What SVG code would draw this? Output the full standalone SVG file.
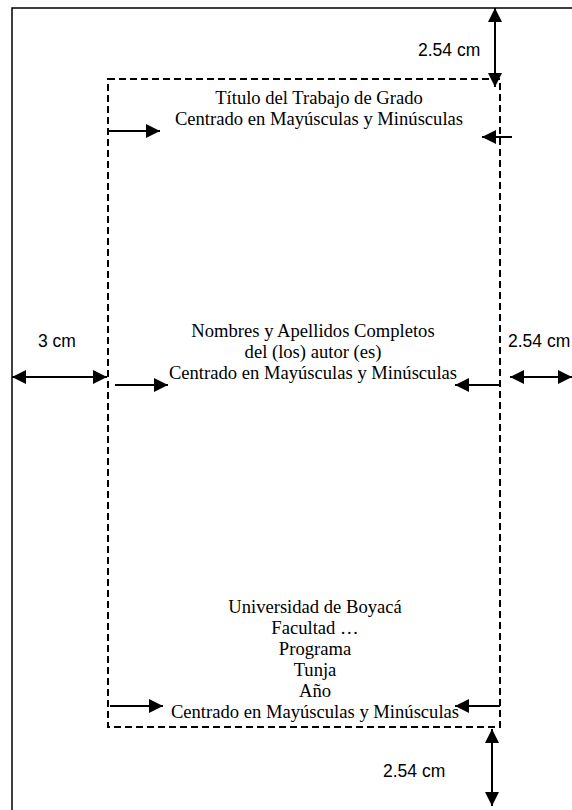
<svg xmlns="http://www.w3.org/2000/svg" width="572" height="810" viewBox="0 0 572 810">
<style>
.page{fill:none;stroke:#000;stroke-width:1.5}
.margin{fill:none;stroke:#000;stroke-width:2;stroke-dasharray:7 4}
.ln{fill:none;stroke:#000;stroke-width:2}
.t{font-family:"Liberation Serif","Times New Roman",serif;font-size:18.6px;fill:#000;text-anchor:middle}
.a{font-family:"Liberation Sans",Arial,sans-serif;font-size:17.5px;fill:#000}
</style>
<defs>
<marker id="ah" viewBox="0 0 10 10" refX="10" refY="5" markerWidth="7.5" markerHeight="7" markerUnits="strokeWidth" orient="auto-start-reverse">
<path d="M0,0 L10,5 L0,10 z" fill="#000"/>
</marker>
</defs>
<rect x="0" y="0" width="572" height="810" fill="#fff"/>
<g id="page"><path class="page" d="M12,810 V8 H572"/></g>
<g id="margin"><rect class="margin" x="108" y="79" width="392" height="648"/></g>
<g id="title">
<text class="t" x="319" y="104">Título del Trabajo de Grado</text>
<text class="t" x="319" y="125">Centrado en Mayúsculas y Minúsculas</text>
</g>
<g id="authors">
<text class="t" x="313" y="337">Nombres y Apellidos Completos</text>
<text class="t" x="313" y="358">del (los) autor (es)</text>
<text class="t" x="313" y="379">Centrado en Mayúsculas y Minúsculas</text>
</g>
<g id="institution">
<text class="t" x="315" y="613">Universidad de Boyacá</text>
<text class="t" x="315" y="634">Facultad  …</text>
<text class="t" x="315" y="655">Programa</text>
<text class="t" x="315" y="676">Tunja</text>
<text class="t" x="315" y="697">Año</text>
<text class="t" x="315" y="718">Centrado en Mayúsculas y Minúsculas</text>
</g>
<g id="labels">
<text class="a" x="418" y="56">2.54 cm</text>
<text class="a" x="38" y="347">3 cm</text>
<text class="a" x="508" y="347">2.54 cm</text>
<text class="a" x="383" y="777">2.54 cm</text>
</g>
<g id="connectors">
<line class="ln" x1="495" y1="8" x2="495" y2="87" marker-start="url(#ah)" marker-end="url(#ah)"/>
<line class="ln" x1="108" y1="131" x2="160" y2="131" marker-end="url(#ah)"/>
<line class="ln" x1="512" y1="137" x2="482" y2="137" marker-end="url(#ah)"/>
<line class="ln" x1="12" y1="377" x2="107" y2="377" marker-start="url(#ah)" marker-end="url(#ah)"/>
<line class="ln" x1="115" y1="385" x2="168" y2="385" marker-end="url(#ah)"/>
<line class="ln" x1="500" y1="385" x2="455" y2="385" marker-end="url(#ah)"/>
<line class="ln" x1="510" y1="377" x2="572" y2="377" marker-start="url(#ah)" marker-end="url(#ah)"/>
<line class="ln" x1="110" y1="706" x2="163" y2="706" marker-end="url(#ah)"/>
<line class="ln" x1="500" y1="706" x2="455" y2="706" marker-end="url(#ah)"/>
<line class="ln" x1="492" y1="729" x2="492" y2="806" marker-start="url(#ah)" marker-end="url(#ah)"/>
</g>
</svg>
